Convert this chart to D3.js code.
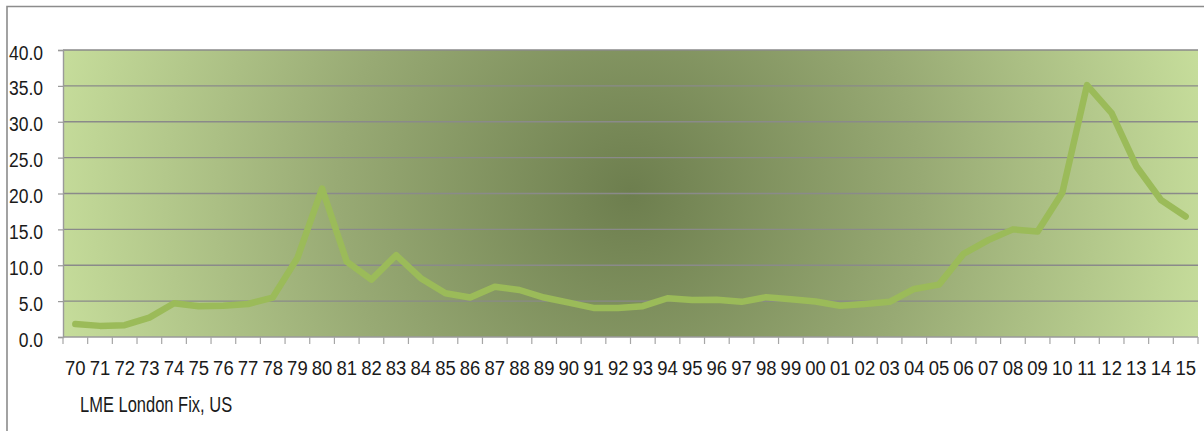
<!DOCTYPE html>
<html>
<head>
<meta charset="utf-8">
<script src="https://cdn.jsdelivr.net/npm/d3@7"></script>
<style>
  html, body { margin: 0; padding: 0; background: #ffffff; }
  svg { display: block; }
  text { font-family: "Liberation Sans", Arial, sans-serif; fill: #1a1a1a; }
</style>
</head>
<body>
<svg id="chart" width="1204" height="431"></svg>
<script>
// ---- data ----
const categories = ["70","71","72","73","74","75","76","77","78","79",
                    "80","81","82","83","84","85","86","87","88","89",
                    "90","91","92","93","94","95","96","97","98","99",
                    "00","01","02","03","04","05","06","07","08","09",
                    "10","11","12","13","14","15"];
const prices = [1.8, 1.55, 1.65, 2.7, 4.7, 4.3, 4.35, 4.6, 5.5, 11.0,
                20.7, 10.5, 8.0, 11.4, 8.2, 6.1, 5.5, 7.0, 6.55, 5.5,
                4.8, 4.05, 4.05, 4.3, 5.4, 5.15, 5.2, 4.9, 5.55, 5.25,
                4.95, 4.35, 4.6, 4.9, 6.7, 7.3, 11.6, 13.5, 15.0, 14.7,
                20.1, 35.1, 31.2, 23.8, 19.1, 16.8];
const yTicks = [0, 5, 10, 15, 20, 25, 30, 35, 40];
const seriesName = "LME London Fix, US";

// ---- layout ----
const svg = d3.select("#chart");
const plot = { left: 63, right: 1198, top: 50, bottom: 337 };

// outer chart border (top and left visible)
svg.append("path")
  .attr("d", "M7,431 L7,6.5 L1204,6.5")
  .attr("fill", "none").attr("stroke", "#8c8c8c").attr("stroke-width", 1.6);

const x = d3.scaleBand().domain(categories).range([plot.left, plot.right]).padding(0);
const y = d3.scaleLinear().domain([0, 40]).range([plot.bottom, plot.top]);

// background radial gradient
const defs = svg.append("defs");
const cx = (plot.left + plot.right) / 2, cy = (plot.top + plot.bottom) / 2;
const grad = defs.append("radialGradient").attr("id", "bg")
  .attr("gradientUnits", "userSpaceOnUse")
  .attr("cx", cx).attr("cy", cy).attr("r", 585)
  .attr("fx", cx).attr("fy", cy);
grad.append("stop").attr("offset", "0").attr("stop-color", "#6d7e4e");
grad.append("stop").attr("offset", "0.5").attr("stop-color", "#98aa74");
grad.append("stop").attr("offset", "1").attr("stop-color", "#c6dd9b");

svg.append("rect")
  .attr("x", plot.left).attr("y", plot.top)
  .attr("width", plot.right - plot.left).attr("height", plot.bottom - plot.top)
  .attr("fill", "url(#bg)");

// gridlines
svg.append("g").selectAll("line").data(yTicks.filter(d => d > 0)).join("line")
  .attr("x1", plot.left).attr("x2", plot.right)
  .attr("y1", d => y(d)).attr("y2", d => y(d))
  .attr("stroke", "#8a8a8a").attr("stroke-width", 1.4);

// y axis
const yAxis = svg.append("g").attr("transform", `translate(${plot.left},0)`)
  .call(d3.axisLeft(y).tickValues(yTicks).tickFormat(d3.format(".1f")).tickSize(5).tickPadding(15));
yAxis.select(".domain").attr("stroke", "#9a9a9a").attr("stroke-width", 1.4);
yAxis.selectAll(".tick line").attr("stroke", "#9a9a9a").attr("stroke-width", 1.2);
yAxis.selectAll(".tick text")
  .attr("font-size", 17.5).attr("font-family", "Liberation Sans, Arial, sans-serif")
  .attr("fill", "#1a1a1a")
  .attr("dy", null).attr("y", 0)
  .attr("transform", "translate(0,9) scale(1,1.16)")
  .attr("dominant-baseline", "auto");

// x axis: ticks at category boundaries
const boundaries = categories.map(c => x(c)).concat([plot.right]);
const xAxisG = svg.append("g");
xAxisG.append("line")
  .attr("x1", plot.left).attr("x2", plot.right)
  .attr("y1", plot.bottom).attr("y2", plot.bottom)
  .attr("stroke", "#9a9a9a").attr("stroke-width", 1.4);
xAxisG.selectAll("line.tk").data(boundaries).join("line").attr("class", "tk")
  .attr("x1", d => d).attr("x2", d => d)
  .attr("y1", plot.bottom).attr("y2", plot.bottom + 7)
  .attr("stroke", "#a6a6a6").attr("stroke-width", 1.2);
xAxisG.selectAll("text").data(categories).join("text")
  .attr("transform", d => `translate(${x(d) + x.bandwidth() / 2},375) scale(1,1.14)`)
  .attr("text-anchor", "middle")
  .attr("font-size", 18.5)
  .text(d => d);

// line
const line = d3.line()
  .x((d, i) => x(categories[i]) + x.bandwidth() / 2)
  .y(d => y(d));
svg.append("path").datum(prices)
  .attr("d", line)
  .attr("fill", "none")
  .attr("stroke", "#9bbb59")
  .attr("stroke-width", 6.5)
  .attr("stroke-linejoin", "round")
  .attr("stroke-linecap", "round");

// legend / series label
svg.append("text")
  .attr("transform", "translate(80,411.5) scale(1,1.3)")
  .attr("font-size", 16.5)
  .text(seriesName);
</script>
</body>
</html>
